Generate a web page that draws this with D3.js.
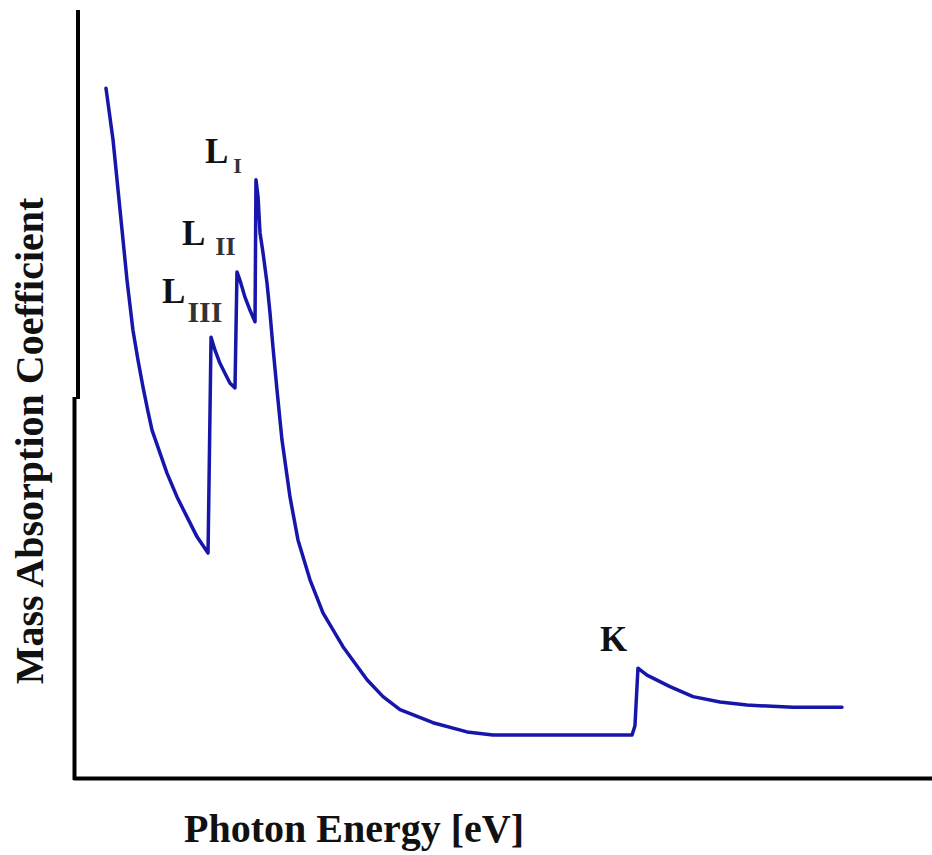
<!DOCTYPE html>
<html>
<head>
<meta charset="utf-8">
<script src="https://cdn.jsdelivr.net/npm/d3@7"></script>
<style>
  body { margin: 0; background: #fff; }
  text { font-family: "Liberation Serif", "Times New Roman", serif; font-weight: bold; fill: #111; }
</style>
</head>
<body>
<div id="chart"></div>
<script>
// photon energy (arbitrary units, 0-100) and mass absorption coefficient (arbitrary units, 0-100)
const energy = [3.84, 4.66, 5.24, 5.82, 6.29, 6.98, 7.57, 8.15, 8.73, 9.20, 10.13, 10.94, 12.11, 13.27, 14.44, 15.72,
  16.07, 16.53, 17.11, 17.69, 18.28, 18.86,
  19.09, 19.44, 20.02, 20.61, 21.19,
  21.30, 21.54, 21.77, 22.12, 22.58, 22.93, 23.28, 23.75, 24.33, 25.26, 26.19, 27.59, 29.10, 31.43, 34.23, 36.09,
  38.07, 41.91, 45.87, 48.89, 55.53, 65.08, 65.42,
  65.77, 66.82, 69.50, 72.18, 75.32, 78.46, 83.82, 89.52];
const absorption = [89.8, 83.1, 76.6, 70.1, 64.8, 58.3, 54.4, 50.9, 47.7, 45.3, 42.3, 39.7, 36.6, 34.0, 31.4, 29.3,
  57.4, 55.7, 54.0, 52.7, 51.4, 50.8,
  65.9, 64.8, 62.6, 60.9, 59.4,
  77.9, 75.7, 71.0, 68.4, 64.5, 60.6, 56.1, 50.5, 44.0, 36.6, 31.0, 25.8, 21.5, 17.1, 12.8, 10.6,
  8.9, 7.2, 6.0, 5.6, 5.6, 5.6, 6.8,
  14.3, 13.4, 11.9, 10.6, 9.9, 9.5, 9.2, 9.2];

// absorption edges
const edgeNames = ["L", "L", "L", "K"];
const edgeSubs = ["III", "II", "I", ""];
const edgeEnergy = [16.07, 19.09, 21.30, 65.77];
const edgeAbs = [57.4, 65.9, 77.9, 14.3];

const width = 932;
const height = 855;

const x = d3.scaleLinear().domain([0, 100]).range([73, 932]);
const y = d3.scaleLinear().domain([0, 100]).range([778, 10]);

const svg = d3.select("#chart")
    .append("svg")
    .attr("width", width)
    .attr("height", height);

// label placement relative to each edge peak (px)
const labelOffset = [
    {dx: -49, dy: -34, sdx: 2, sdy: 19, size: 30},
    {dx: -55, dy: -27, sdx: 10, sdy: 10, size: 26},
    {dx: -51, dy: -17, sdx: 5, sdy: 10, size: 22},
    {dx: -38, dy: -17, sdx: 0, sdy: 0, size: 22}
];

// x axis: no ticks, just the line
svg.append("g")
    .attr("class", "xaxis")
    .attr("transform", `translate(0,${y(0)})`)
    .call(d3.axisBottom(x).tickValues([]).tickSizeOuter(0))
    .select(".domain")
    .attr("stroke", "#000")
    .attr("stroke-width", 4);

// y axis drawn in two pieces (the upper piece sits a few px to the right)
const yBreak = 49.6;
svg.append("line")
    .attr("x1", x(0) + 1.5).attr("x2", x(0) + 1.5)
    .attr("y1", y(0) + 2).attr("y2", y(yBreak))
    .attr("stroke", "#000").attr("stroke-width", 4);
svg.append("line")
    .attr("x1", x(0) + 5).attr("x2", x(0) + 5)
    .attr("y1", y(yBreak) + 2).attr("y2", y(100))
    .attr("stroke", "#000").attr("stroke-width", 4);

// curve
const pts = energy.map((e, i) => [e, absorption[i]]);
const line = d3.line()
    .x(d => x(d[0]))
    .y(d => y(d[1]))
    .curve(d3.curveLinear);

svg.append("path")
    .datum(pts)
    .attr("fill", "none")
    .attr("stroke", "#1616aa")
    .attr("stroke-width", 3.5)
    .attr("stroke-linejoin", "round")
    .attr("stroke-linecap", "round")
    .attr("d", line);

// edge labels
edgeNames.forEach((nm, i) => {
    const o = labelOffset[i];
    const t = svg.append("text")
        .attr("x", x(edgeEnergy[i]) + o.dx)
        .attr("y", y(edgeAbs[i]) + o.dy)
        .attr("font-size", 35)
        .text(nm);
    if (edgeSubs[i]) {
        t.append("tspan")
            .attr("dx", o.sdx)
            .attr("dy", o.sdy)
            .attr("font-size", o.size)
            .attr("fill", "#333")
            .text(edgeSubs[i]);
    }
});

// axis titles
svg.append("text")
    .attr("x", 354)
    .attr("y", 842)
    .attr("text-anchor", "middle")
    .attr("font-size", 40)
    .text("Photon Energy [eV]");

svg.append("text")
    .attr("transform", "translate(43,441) rotate(-90)")
    .attr("text-anchor", "middle")
    .attr("font-size", 40)
    .text("Mass Absorption Coefficient");
</script>
</body>
</html>
